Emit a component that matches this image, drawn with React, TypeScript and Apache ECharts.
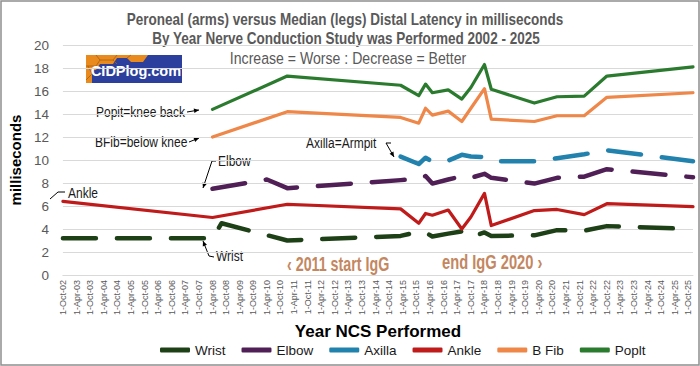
import React, { useEffect, useRef } from "react";
import * as echarts from "echarts";

// Dates of the nerve conduction studies (year-month)
const studyDates = [
  "2002-10", "2008-04", "2008-08", "2010-04", "2011-01", "2015-03", "2015-11",
  "2016-02", "2016-05", "2016-12", "2017-06", "2017-10", "2018-04", "2018-07",
  "2020-02", "2020-12", "2021-12", "2022-10", "2025-12",
];

const seriesNames = ["Wrist", "Elbow", "Axilla", "Ankle", "B Fib", "Poplt"];

const wrist = [3.2, 3.2, 4.5, null, 3.0, 3.4, 3.75, 3.7, 3.35, 3.6, 3.8, 3.3, 3.7, 3.4, 3.45, 3.9, 3.85, 4.25, 4.0];
const elbow = [null, 7.5, null, 8.3, 7.55, 8.25, 8.35, 8.6, 7.95, 8.3, 8.6, 8.45, 8.8, 8.45, 7.95, 8.45, 8.55, 9.2, 8.5];
const axilla = [null, null, null, null, null, 10.3, 9.65, 10.2, 9.85, 9.95, 10.45, 10.3, 10.25, 9.9, 9.9, 10.15, 10.5, 10.85, 9.9];
const ankle = [6.4, 5.0, null, null, 6.15, 5.75, 4.5, 5.35, 5.2, 5.65, 4.0, 5.05, 7.1, 4.3, 5.6, 5.7, 5.25, 6.2, 5.95];
const bFib = [null, 12.0, null, null, 14.2, 13.7, 13.2, 14.5, 13.9, 14.25, 13.35, 14.5, 16.2, 13.55, 13.35, 13.85, 13.85, 15.45, 15.85];
const poplt = [null, 14.4, null, null, 17.3, 16.5, 15.6, 16.6, 15.85, 16.1, 15.3, 16.3, 18.3, 16.15, 14.95, 15.5, 15.55, 17.3, 18.1];

const seriesValues = [wrist, elbow, axilla, ankle, bFib, poplt];
const seriesColors = ["#1E4017", "#4F1F56", "#2182AE", "#C01B1B", "#EE8748", "#2B7B2F"];
const seriesDashed = [true, true, true, false, false, false];

const yMin = 0;
const yMax = 20;
const yStep = 2;
const monthNames = ["Jan", "Feb", "Mar", "Apr", "May", "Jun", "Jul", "Aug", "Sep", "Oct", "Nov", "Dec"];
const xStartYear = 2002; // axis starts 1-Oct-02
const xEnd = "2025-12";

const SANS = '"Liberation Sans", Arial, sans-serif';
const NARROW_SCALE = 0.82;

function monthIndex(d: string): number {
  const [y, m] = d.split("-").map(Number);
  return (y - xStartYear) * 12 + (m - 10);
}

function xLabel(v: number): string {
  if (v % 6 !== 0) return "";
  const t = 9 + v;
  const yr = xStartYear + Math.floor(t / 12);
  const mo = t % 12;
  return `1-${monthNames[mo]}-${String(yr % 100).padStart(2, "0")}`;
}

function arrowHead(x1: number, y1: number, x2: number, y2: number, size = 5) {
  const a = Math.atan2(y2 - y1, x2 - x1);
  const c = Math.cos(a), s = Math.sin(a);
  return {
    type: "polygon",
    shape: {
      points: [
        [x2, y2],
        [x2 - size * c + size * 0.45 * s, y2 - size * s - size * 0.45 * c],
        [x2 - size * c - size * 0.45 * s, y2 - size * s + size * 0.45 * c],
      ],
    },
    style: { fill: "#000" },
    silent: true,
  };
}

function connector(points: number[][], arrow: boolean) {
  const els: any[] = [
    { type: "polyline", shape: { points }, style: { stroke: "#000", lineWidth: 1, fill: null }, silent: true },
  ];
  if (arrow) {
    const n = points.length;
    els.push(arrowHead(points[n - 2][0], points[n - 2][1], points[n - 1][0], points[n - 1][1]));
  }
  return els;
}

function narrowText(text: string, x: number, y: number, font: string, fill: string, align: string, scale = NARROW_SCALE) {
  return {
    type: "text",
    x,
    y,
    scaleX: scale,
    style: { text, font, fill, textAlign: align, textVerticalAlign: "middle" },
    silent: true,
  };
}

function note(text: string, x: number, y: number) {
  return narrowText(text, x, y, `15px ${SANS}`, "#1a1a1a", "left", 0.8);
}

export default function App() {
  const ref = useRef<HTMLDivElement>(null);

  useEffect(() => {
    if (!ref.current) return;
    const chart = echarts.init(ref.current, undefined, { renderer: "svg" });

    const series = seriesNames.map((name, k) => ({
      name,
      type: "line",
      symbol: "none",
      data: studyDates
        .map((d, i) => (seriesValues[k][i] == null ? null : [monthIndex(d), seriesValues[k][i]]))
        .filter((p) => p !== null),
      lineStyle: {
        color: seriesColors[k],
        width: seriesDashed[k] ? 4.5 : 3.2,
        type: seriesDashed[k] ? [33, 21] : "solid",
        cap: "round",
        join: "round",
      },
      itemStyle: { color: seriesColors[k] },
      z: 2 + k,
    }));

    const edge = "#A85F12";
    const graphic: any[] = [
      // chart border
      { type: "rect", shape: { x: 1, y: 1, width: 698, height: 364 }, style: { fill: null, stroke: "#8F8F8F", lineWidth: 1.5 }, silent: true },
      // titles
      narrowText("Peroneal (arms) versus Median (legs) Distal Latency in milliseconds", 345, 19, `bold 16.5px ${SANS}`, "#595959", "center"),
      narrowText("By Year Nerve Conduction Study was Performed 2002 - 2025", 346, 38, `bold 16.5px ${SANS}`, "#595959", "center"),
      narrowText("Increase = Worse : Decrease = Better", 348, 58, `17.2px ${SANS}`, "#595959", "center"),
      // logo
      { type: "rect", shape: { x: 86, y: 55, width: 96, height: 28 }, style: { fill: "#2C3F9C" }, silent: true },
      {
        type: "polygon",
        shape: { points: [[86, 55], [148, 55], [143, 62], [131, 62], [127, 58], [117, 58], [113, 64], [100, 64], [96, 70], [92, 70], [92, 83], [86, 83]] },
        style: { fill: "#E88A1D" },
        silent: true,
      },
      { type: "polyline", shape: { points: [[96, 55], [100, 60], [113, 60], [117, 55]] }, style: { stroke: edge, lineWidth: 0.8, fill: null }, silent: true },
      { type: "polyline", shape: { points: [[100, 60], [96, 66], [86, 66]] }, style: { stroke: edge, lineWidth: 0.8, fill: null }, silent: true },
      { type: "polyline", shape: { points: [[113, 60], [117, 64]] }, style: { stroke: edge, lineWidth: 0.8, fill: null }, silent: true },
      { type: "polyline", shape: { points: [[127, 58], [131, 55]] }, style: { stroke: edge, lineWidth: 0.8, fill: null }, silent: true },
      { type: "polyline", shape: { points: [[88, 66], [92, 74], [86, 80]] }, style: { stroke: edge, lineWidth: 0.8, fill: null }, silent: true },
      { type: "text", x: 136, y: 71, style: { text: "CIDPlog.com", font: `bold 14.5px ${SANS}`, fill: "#fff", textAlign: "center", textVerticalAlign: "middle" }, silent: true },
      // annotations
      note("Popit=knee back", 96, 112),
      ...connector([[187, 112], [199, 110]], true),
      note("BFib=below knee", 95, 142),
      ...connector([[189, 142], [199, 138]], true),
      note("Elbow", 218, 161),
      ...connector([[216, 161], [212, 161], [203, 188]], true),
      note("Ankle", 68, 193),
      ...connector([[65, 192], [58, 192], [50, 199]], false),
      note("Wrist", 216, 256),
      ...connector([[214, 257], [209, 256], [203, 241]], true),
      note("Axilla=Armpit", 306, 143),
      ...connector([[391, 143], [386, 143], [394, 157]], true),
      narrowText("‹ 2011 start IgG", 287, 264, `bold 21px ${SANS}`, "#C4875F", "left", 0.68),
      narrowText("end IgG 2020 ›", 442, 262, `bold 21px ${SANS}`, "#C4875F", "left", 0.7),
    ];

    chart.setOption({
      animation: false,
      backgroundColor: "#fff",
      grid: { left: 49, right: 7, top: 45, bottom: 91, containLabel: false },
      xAxis: {
        type: "value",
        min: 0,
        max: monthIndex(xEnd),
        interval: 6,
        name: "Year NCS Performed",
        nameLocation: "middle",
        nameGap: 46,
        nameTextStyle: { fontFamily: SANS, fontWeight: "bold", fontSize: 17, color: "#000" },
        axisLine: { show: true, lineStyle: { color: "#D9D9D9", width: 1 } },
        axisTick: { show: false },
        splitLine: { show: false },
        axisLabel: {
          rotate: 90,
          fontFamily: SANS,
          fontSize: 9,
          color: "#595959",
          margin: 5,
          showMaxLabel: false,
          formatter: (v: number) => xLabel(v),
        },
      },
      yAxis: {
        type: "value",
        min: yMin,
        max: yMax,
        interval: yStep,
        name: "milliseconds",
        nameLocation: "middle",
        nameGap: 36,
        nameRotate: 90,
        nameTextStyle: { fontFamily: SANS, fontWeight: "bold", fontSize: 15, color: "#000" },
        axisLine: { show: false },
        axisTick: { show: false },
        splitLine: { show: true, lineStyle: { color: "#D9D9D9", width: 1 } },
        axisLabel: { fontFamily: SANS, fontSize: 13.5, color: "#595959", margin: 14 },
      },
      legend: {
        data: seriesNames,
        left: 155,
        top: 338,
        icon: "roundRect",
        itemWidth: 30,
        itemHeight: 5,
        itemGap: 16,
        textStyle: { fontFamily: SANS, fontSize: 13.5, color: "#1a1a1a" },
      },
      series,
      graphic,
    });

    return () => chart.dispose();
  }, []);

  return <div ref={ref} style={{ position: "fixed", left: 0, top: 0, width: 700, height: 366 }} />;
}
